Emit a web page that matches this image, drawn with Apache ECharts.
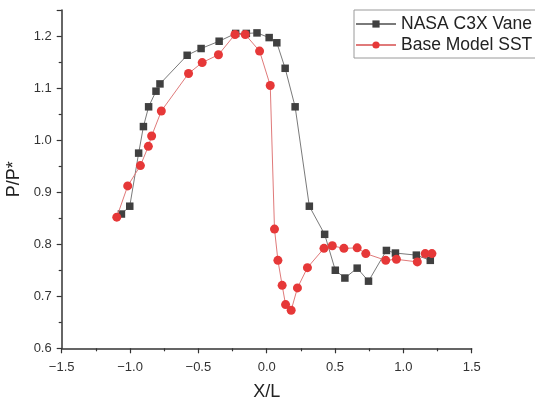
<!DOCTYPE html>
<html>
<head>
<meta charset="utf-8">
<script src="https://cdn.jsdelivr.net/npm/echarts@6/dist/echarts.min.js"></script>
<style>html,body{margin:0;padding:0;background:#fff}#c{width:535px;height:399px}</style>
</head>
<body>
<div id="c"></div>
<script>
const seriesNames = ['NASA C3X Vane', 'Base Model SST'];
const nasaX = [-1.063,-1.002,-0.937,-0.902,-0.864,-0.81,-0.781,-0.582,-0.48,-0.348,-0.227,-0.149,-0.071,0.018,0.074,0.135,0.208,0.312,0.424,0.502,0.572,0.662,0.745,0.876,0.942,1.095,1.197];
const nasaY = [0.858,0.873,0.975,1.026,1.064,1.094,1.108,1.163,1.176,1.190,1.205,1.205,1.206,1.197,1.187,1.138,1.064,0.873,0.819,0.750,0.735,0.754,0.729,0.788,0.783,0.779,0.769];
const sstX = [-1.097,-1.017,-0.924,-0.866,-0.842,-0.771,-0.572,-0.472,-0.353,-0.232,-0.157,-0.052,0.026,0.057,0.082,0.113,0.138,0.179,0.225,0.298,0.419,0.48,0.565,0.662,0.725,0.871,0.949,1.102,1.16,1.209];
const sstY = [0.852,0.912,0.951,0.988,1.008,1.056,1.128,1.149,1.164,1.203,1.203,1.171,1.105,0.829,0.769,0.721,0.684,0.673,0.716,0.755,0.792,0.797,0.792,0.793,0.782,0.769,0.771,0.766,0.782,0.782];

const zip = (xs, ys) => xs.map((x, i) => [x, ys[i]]);
const font = 'Liberation Sans, Arial, sans-serif';
const fmt = v => (v < 0 ? '\u2212' + Math.abs(v).toFixed(1) : v.toFixed(1));

const chart = echarts.init(document.getElementById('c'), null, {renderer: 'canvas'});
chart.setOption({
  animation: false,
  backgroundColor: '#fff',
  grid: {left: 61.7, right: 63.3, top: 10, bottom: 50.7, containLabel: false, outerBoundsMode: 'none'},
  legend: {
    orient: 'vertical', left: 354, top: 10,
    padding: [5, 14, 4, 1], itemGap: 3, itemWidth: 40, itemHeight: 9,
    borderColor: '#9a9a9a', borderWidth: 1,
    textStyle: {fontFamily: font, fontSize: 17.5, color: '#222'},
    data: seriesNames
  },
  xAxis: {
    type: 'value', min: -1.5, max: 1.5, interval: 0.5,
    name: 'X/L', nameLocation: 'middle', nameGap: 35,
    nameTextStyle: {fontFamily: font, fontSize: 18, color: '#222'},
    axisLine: {show: true, onZero: false, lineStyle: {color: '#333', width: 1.5}},
    axisTick: {show: true, length: 5, inside: false, lineStyle: {color: '#333', width: 1.2}},
    minorTick: {show: true, splitNumber: 2, length: 3, lineStyle: {color: '#333', width: 1.2}},
    splitLine: {show: false},
    axisLabel: {fontFamily: font, fontSize: 13, color: '#333', margin: 13, formatter: fmt}
  },
  yAxis: {
    type: 'value', min: 0.6, max: 1.25, interval: 0.1,
    name: 'P/P*', nameLocation: 'middle', nameGap: 33,
    nameTextStyle: {fontFamily: font, fontSize: 18, color: '#222'},
    axisLine: {show: true, onZero: false, lineStyle: {color: '#333', width: 1.5}},
    axisTick: {show: true, length: 5, inside: false, lineStyle: {color: '#333', width: 1.2}},
    minorTick: {show: true, splitNumber: 2, length: 3, lineStyle: {color: '#333', width: 1.2}},
    splitLine: {show: false},
    axisLabel: {fontFamily: font, fontSize: 13, color: '#333', margin: 10, showMaxLabel: false,
      formatter: v => v.toFixed(1)}
  },
  series: [
    {
      name: seriesNames[0], type: 'line', data: zip(nasaX, nasaY),
      symbol: 'rect', symbolSize: 7.5,
      itemStyle: {color: '#404040'},
      lineStyle: {color: '#7a7a7a', width: 1},
      z: 2
    },
    {
      name: seriesNames[1], type: 'line', data: zip(sstX, sstY),
      symbol: 'circle', symbolSize: 9,
      itemStyle: {color: '#e63838'},
      lineStyle: {color: '#e07a7a', width: 1},
      z: 3
    }
  ]
});
</script>
</body>
</html>
